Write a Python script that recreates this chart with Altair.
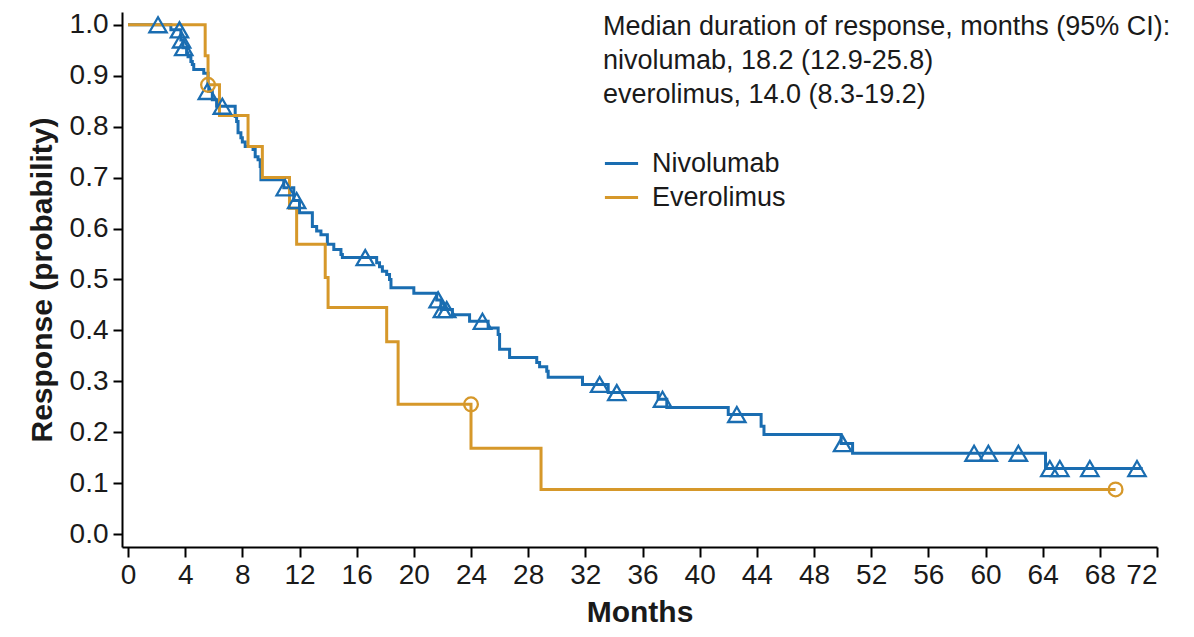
import altair as alt
import pandas as pd

# ---- data ----
niv_time = [0, 3.0, 3.7, 3.85, 4.1, 4.2, 4.4, 4.5, 4.6, 5.3, 5.6, 5.65, 5.9, 6.2,
            7.5, 7.6, 7.7, 7.9, 8.0, 8.2, 8.75, 8.9, 9.1, 9.25, 9.3, 10.9, 11.6, 12.0,
            12.9, 13.2, 13.5, 13.95, 14.4, 14.9, 15.0, 17.4, 17.6, 17.8, 18.1, 18.3,
            18.4, 20.0, 21.6, 21.9, 22.7, 23.9, 25.2, 25.9, 26.0, 26.7, 28.6, 28.8,
            29.3, 29.4, 31.8, 33.6, 37.1, 37.7, 42.0, 44.3, 44.5, 49.9, 50.7, 64.2, 71.0]
niv_surv = [1.0, 0.99, 0.97, 0.955, 0.945, 0.937, 0.928, 0.922, 0.912, 0.905, 0.882,
            0.869, 0.853, 0.84, 0.82, 0.81, 0.788, 0.778, 0.77, 0.761, 0.755, 0.741,
            0.735, 0.722, 0.696, 0.68, 0.655, 0.631, 0.604, 0.595, 0.588, 0.569, 0.559,
            0.549, 0.543, 0.533, 0.525, 0.516, 0.51, 0.50, 0.484, 0.473, 0.46, 0.441,
            0.431, 0.418, 0.405, 0.392, 0.363, 0.347, 0.337, 0.329, 0.32, 0.308, 0.294,
            0.278, 0.265, 0.249, 0.235, 0.212, 0.196, 0.178, 0.159, 0.129, 0.129]
niv_cens_time = [2.1, 3.6, 3.75, 3.9, 5.55, 6.6, 11.0, 11.8, 16.6, 21.7, 22.0, 22.3,
                 24.8, 33.0, 34.2, 37.4, 42.6, 50.0, 59.2, 60.2, 62.3, 64.5, 65.2, 67.3, 70.6]
niv_cens_surv = [1.0, 0.99, 0.97, 0.955, 0.869, 0.84, 0.68, 0.655, 0.543, 0.46, 0.441,
                 0.441, 0.418, 0.294, 0.278, 0.265, 0.235, 0.178, 0.159, 0.159, 0.159,
                 0.129, 0.129, 0.129, 0.129]

eve_time = [0, 5.4, 5.6, 6.4, 8.4, 9.4, 11.3, 11.8, 13.8, 14.0, 18.1, 18.9, 24.0, 28.9, 69.1]
eve_surv = [1.0, 0.939, 0.882, 0.822, 0.761, 0.70, 0.64, 0.569, 0.504, 0.445, 0.378,
            0.255, 0.169, 0.088, 0.088]
eve_cens_time = [5.6, 24.0, 69.1]
eve_cens_surv = [0.882, 0.255, 0.088]

groups = ["Nivolumab", "Everolimus"]
colors = ["#1a6db1", "#d6982a"]
note_lines = ["Median duration of response, months (95% CI):",
              "nivolumab, 18.2 (12.9-25.8)",
              "everolimus, 14.0 (8.3-19.2)"]
x_ticks = list(range(0, 73, 4))
y_ticks = [round(i * 0.1, 1) for i in range(11)]

FONT = "Liberation Sans"
TXT = "#1a1a1a"

lines_df = pd.concat([
    pd.DataFrame({"t": niv_time, "s": niv_surv, "g": groups[0]}),
    pd.DataFrame({"t": eve_time, "s": eve_surv, "g": groups[1]}),
])
niv_c = pd.DataFrame({"t": niv_cens_time, "s": niv_cens_surv})
eve_c = pd.DataFrame({"t": eve_cens_time, "s": eve_cens_surv})

xs = alt.Scale(domain=[-0.42, 72], nice=False, zero=False)
ys = alt.Scale(domain=[-0.025, 1.025], nice=False, zero=False)

x_axis = alt.Axis(values=x_ticks, title="Months", labelFontSize=28, titleFontSize=30,
                  titleFontWeight="bold", tickSize=10, labelPadding=4, titlePadding=8,
                  grid=False, domainColor="black", tickColor="black", domainWidth=2,
                  tickWidth=2, labelColor=TXT, titleColor=TXT,
                  labelFont=FONT, titleFont=FONT)
y_axis = alt.Axis(values=y_ticks, format=".1f", title="Response (probability)",
                  labelFontSize=28, titleFontSize=30, titleFontWeight="bold",
                  tickSize=9, labelPadding=5, titlePadding=12, grid=False,
                  domainColor="black", tickColor="black", domainWidth=2, tickWidth=2,
                  labelColor=TXT, titleColor=TXT, labelFont=FONT,
                  titleFont=FONT)

color = alt.Color("g:N", scale=alt.Scale(domain=groups, range=colors),
                  legend=alt.Legend(title=None, orient="none", legendX=481, legendY=133,
                                    symbolType="stroke", symbolSize=1100,
                                    symbolStrokeWidth=3, labelFontSize=27,
                                    labelFont=FONT, labelColor=TXT,
                                    rowPadding=2, labelOffset=12))

steps = alt.Chart(lines_df).mark_line(interpolate="step-after", strokeWidth=3).encode(
    x=alt.X("t:Q", scale=xs, axis=x_axis),
    y=alt.Y("s:Q", scale=ys, axis=y_axis),
    color=color,
    detail="g:N",
)

niv_pts = alt.Chart(niv_c).mark_point(shape="triangle-up", filled=False, size=300,
                                      strokeWidth=2.3, color=colors[0], opacity=1).encode(
    x=alt.X("t:Q", scale=xs), y=alt.Y("s:Q", scale=ys))
eve_pts = alt.Chart(eve_c).mark_point(shape="circle", filled=False, size=190,
                                      strokeWidth=2.3, color=colors[1], opacity=1).encode(
    x=alt.X("t:Q", scale=xs), y=alt.Y("s:Q", scale=ys))

note = alt.Chart(pd.DataFrame({"txt": [note_lines]})).mark_text(
    align="left", baseline="alphabetic", fontSize=27, font=FONT, lineHeight=34,
    color=TXT).encode(text="txt", x=alt.value(481), y=alt.value(23))

chart = alt.layer(steps, niv_pts, eve_pts, note).properties(
    width=1035, height=535,
    autosize=alt.AutoSizeParams(type="none"),
    padding={"left": 114, "top": 4, "right": 29, "bottom": 82},
).configure_view(stroke=None)

chart.save("out.html", embed_options={"renderer": "svg", "actions": False})
